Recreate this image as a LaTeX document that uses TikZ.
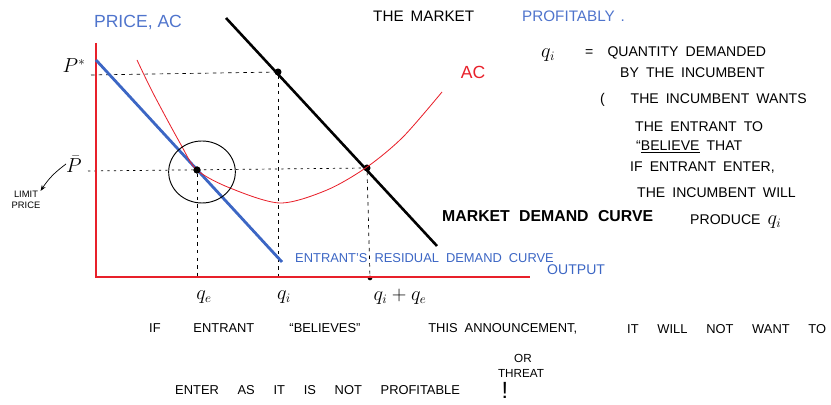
\documentclass[tikz,border=0pt]{standalone}
\usepackage{fontspec}
\setmainfont{Liberation Sans}
\usetikzlibrary{arrows.meta,positioning,calc}
\definecolor{penred}{HTML}{E8202A}
\definecolor{penblue}{HTML}{3C66C4}
\definecolor{inkblue}{HTML}{4F74CC}

\begin{document}
\begin{tikzpicture}[x=0.03cm, y=-0.03cm,
  axis/.style={penred, line width=2.4pt},
  guide/.style={line width=0.6pt, dash pattern=on 3pt off 3.5pt},
  dot/.style={circle, fill=black, inner sep=0pt, minimum size=6pt},
  hand/.style={font={\fontsize{12}{14}\selectfont\spaceskip=6pt\relax}, inner sep=0pt, anchor=west},
  wide/.style={font={\fontsize{11}{13}\selectfont\spaceskip=16pt\relax}, inner sep=0pt, anchor=west},
  sym/.style={font=\fontsize{16}{18}\selectfont, inner sep=0pt}
]
  \useasboundingbox (0,0) rectangle (831,405);
  % axes
  \coordinate (O) at (96,277);
  \coordinate (ytop) at (96,43);
  \coordinate (xend) at (530,277);
  % key points
  \node[dot] (A) at (278,72) {};
  \node[dot] (B) at (367,168) {};
  \node[dot] (E) at (197,170) {};
  \node[dot, minimum size=4pt] (qsum) at (370,278) {};
  \coordinate (pstarL) at (91,75);
  \coordinate (pbarL) at (88,171);
  % dashed guides
  \draw[guide] (pstarL) -- (A);
  \draw[guide, dash pattern=on 2pt off 3.5pt] (pbarL) -- (B);
  \draw[guide] (A) -- (A |- O);
  \draw[guide] (E) -- (E |- O);
  \draw[guide] (B) -- (qsum);
  % curves
  \draw[axis] (ytop) -- (O) -- (xend);
  \coordinate (rd1) at (96,60);
  \coordinate (rd2) at (282,262);
  \draw[penblue, line width=2.4pt] (rd1) -- (rd2);
  \coordinate (md1) at (226,18);
  \coordinate (md2) at (437,246);
  \draw[black, line width=2.2pt] (md1) -- (md2);
  \draw[penred, line width=0.7pt] plot[smooth] coordinates
    {(137,60) (153,93) (180,143) (197,170) (230,188) (280,203) (327,190) (367,167) (403,137) (442,92)};
  \draw[line width=0.8pt] (202,172) ellipse [x radius=1cm, y radius=0.93cm];
  \node[dot] at (E) {};
  % axis labels
  \node[font=\fontsize{15}{17}\selectfont, inkblue] (ylab) at (138,22) {PRICE, AC};
  \node[sym] (pstar) at (74,66) {$P^{*}$};
  \node[sym] (pbar) at (74,164) {$\bar{P}$};
  \node[font=\fontsize{8}{9.5}\selectfont, align=center, inner sep=0pt] (limit) at (26,200) {LIMIT\\PRICE};
  \draw[-{Stealth[length=5pt]}, line width=0.6pt] (pbar.west) to[bend right=10] (limit.north east);
  \node[sym] (qe) at (204,297) {$q_e$};
  \node[sym] (qi) at (284,297) {$q_i$};
  \node[sym] (qiqe) at (400,297) {$q_i+q_e$};
  \node[font=\fontsize{15}{17}\selectfont, penred] (aclab) at (473,72) {AC};
  \node[hand, font={\fontsize{11}{13}\selectfont\spaceskip=6pt\relax}, penblue] (rdlab) at (295,258) {ENTRANT'S RESIDUAL DEMAND CURVE};
  \node[hand, penblue] (xlab) at (547,270) {OUTPUT};
  \node[hand, font={\bfseries\fontsize{13.5}{15}\selectfont\spaceskip=8pt\relax}] (mdlab) at (442,216) {MARKET DEMAND CURVE};
  % top line
  \node[hand, font={\fontsize{13}{15}\selectfont\spaceskip=6pt\relax}] (mkt) at (373,16) {THE MARKET};
  \node[hand, font=\fontsize{13}{15}\selectfont, inkblue] (prof) at (522,16) {PROFITABLY\hspace{5pt}.};
  % right note
  \node[sym, anchor=west] (qinote) at (541,55) {$q_i$};
  \node[hand] (n1) at (585,53) {=\hspace{12pt}QUANTITY DEMANDED};
  \node[hand] (n2) at (620,73) {BY THE INCUMBENT};
  \node[hand] (n3) at (600,100) {(\hspace{22pt}THE INCUMBENT WANTS};
  \node[hand] (n4) at (635,127) {THE ENTRANT TO};
  \node[hand] (n5) at (636,147) {``\underline{BELIEVE} THAT};
  \node[hand] (n6) at (630,168) {IF ENTRANT ENTER,};
  \node[hand] (n7) at (637,193) {THE INCUMBENT WILL};
  \node[hand] (n8) at (690,222) {PRODUCE \fontsize{16}{18}\selectfont$q_i$};
  % bottom note
  \node[wide] (b1) at (149,329) {IF\hspace{28pt}ENTRANT\hspace{30pt}``BELIEVES''\hspace{58pt}THIS\hspace{6pt}ANNOUNCEMENT,};
  \node[wide] (b2) at (627,329) {IT WILL NOT WANT TO};
  \node[font=\fontsize{10}{12}\selectfont, inner sep=0pt] (b3) at (523,358) {OR};
  \node[font=\fontsize{10}{12}\selectfont, inner sep=0pt] (b4) at (521,373) {THREAT};
  \node[wide] (b5) at (175,390) {ENTER AS IT IS NOT PROFITABLE};
  \node[sym, font=\fontsize{20}{22}\selectfont] (bang) at (505,390) {!};
\end{tikzpicture}
\end{document}
